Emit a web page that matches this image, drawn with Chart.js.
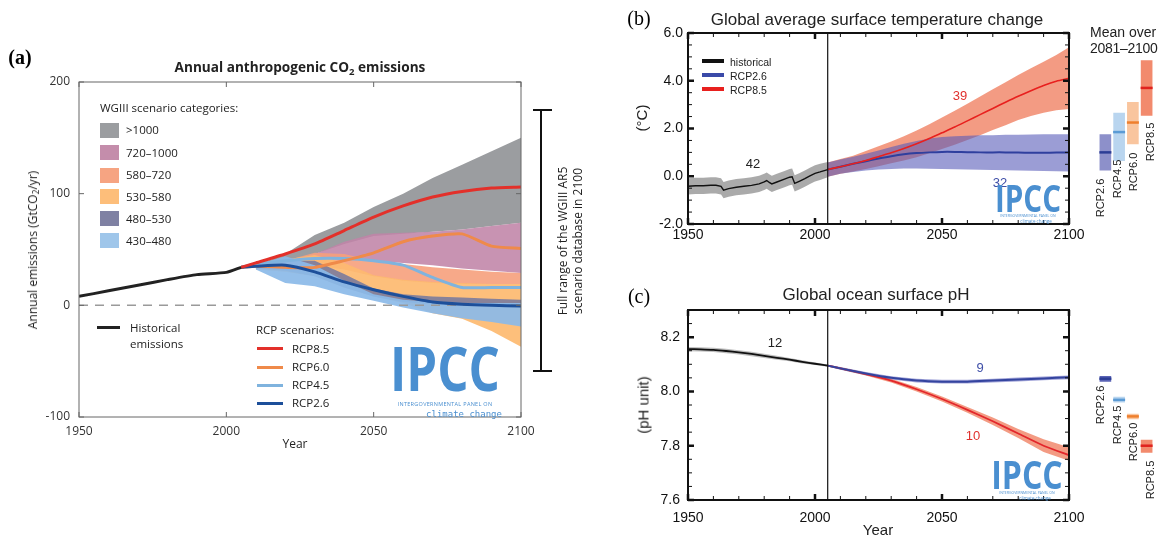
<!DOCTYPE html>
<html>
<head>
<meta charset="utf-8">
<script src="https://cdn.jsdelivr.net/npm/chart.js@4.4.1/dist/chart.umd.min.js"></script>
<style>
  html, body { margin: 0; padding: 0; background: #fff; }
  #page { position: relative; width: 1162px; height: 537px; overflow: hidden; font-family: "Liberation Sans", Arial, sans-serif; color: #222; }
  .box { position: absolute; }
  .t { position: absolute; white-space: nowrap; line-height: 1; }
  .cc { transform: translate(-50%, -50%); }
  .lc { transform: translate(0, -50%); }
  .rc { transform: translate(-50%, -50%) rotate(-90deg); }
  .os { font-family: "Open Sans", "Noto Sans", sans-serif; }
  sub { font-size: 70%; vertical-align: -0.25em; line-height: 0; }
  .sw { position: absolute; width: 19px; height: 15px; }
  .ln { position: absolute; height: 3px; }
  .logo { position: absolute; color: #4a8fd0; font-family: "Open Sans", sans-serif; white-space: nowrap; line-height: 1; }
  .big { font-weight: 700; }
</style>
</head>
<body>
<div id="page">

  <!-- panel (a) -->
  <div class="box" style="left:0;top:0;width:560px;height:460px;"><canvas id="emis"></canvas></div>
  <div class="t cc" style="left:20px;top:57px;font:bold 20px 'Liberation Serif',serif;color:#000;">(a)</div>
  <div class="t cc os" style="left:300px;top:67px;font-weight:700;font-size:13.6px;color:#222;">Annual anthropogenic CO<sub>2</sub> emissions</div>
  <div class="t rc os" style="left:33px;top:250px;font-size:12px;">Annual emissions (GtCO<sub>2</sub>/yr)</div>
  <div class="t cc os" style="left:295px;top:444px;font-size:12px;">Year</div>

  <div class="t lc os" style="left:100px;top:108px;font-size:11.5px;">WGIII scenario categories:</div>
  <div class="sw" style="left:100px;top:123px;background:#9b9da0;"></div>
  <div class="t lc os" style="left:126px;top:130px;font-size:11.5px;">&gt;1000</div>
  <div class="sw" style="left:100px;top:145px;background:#c48dab;"></div>
  <div class="t lc os" style="left:126px;top:153px;font-size:11.5px;">720–1000</div>
  <div class="sw" style="left:100px;top:168px;background:#f6a482;"></div>
  <div class="t lc os" style="left:126px;top:175px;font-size:11.5px;">580–720</div>
  <div class="sw" style="left:100px;top:189px;background:#fdbe7a;"></div>
  <div class="t lc os" style="left:126px;top:197px;font-size:11.5px;">530–580</div>
  <div class="sw" style="left:100px;top:211px;background:#7f81a3;"></div>
  <div class="t lc os" style="left:126px;top:219px;font-size:11.5px;">480–530</div>
  <div class="sw" style="left:100px;top:233px;background:#9fc6ea;"></div>
  <div class="t lc os" style="left:126px;top:241px;font-size:11.5px;">430–480</div>

  <div class="ln" style="left:97px;top:326px;width:23px;background:#222;"></div>
  <div class="t lc os" style="left:130px;top:328px;font-size:11.5px;">Historical</div>
  <div class="t lc os" style="left:130px;top:344px;font-size:11.5px;">emissions</div>

  <div class="t lc os" style="left:256px;top:330px;font-size:11.5px;">RCP scenarios:</div>
  <div class="ln" style="left:257px;top:347px;width:26px;background:#e3302a;"></div>
  <div class="t lc os" style="left:292px;top:349px;font-size:11.5px;">RCP8.5</div>
  <div class="ln" style="left:257px;top:366px;width:26px;background:#ef8a4a;"></div>
  <div class="t lc os" style="left:292px;top:367px;font-size:11.5px;">RCP6.0</div>
  <div class="ln" style="left:257px;top:384px;width:26px;background:#7fb3de;"></div>
  <div class="t lc os" style="left:292px;top:385px;font-size:11.5px;">RCP4.5</div>
  <div class="ln" style="left:257px;top:402px;width:26px;background:#1d4f9a;"></div>
  <div class="t lc os" style="left:292px;top:403px;font-size:11.5px;">RCP2.6</div>

  <div class="logo big" style="left:445px;top:368px;font-size:60px;transform:translate(-50%,-50%) scaleX(0.82);">IPCC</div>
  <div class="logo" style="left:445px;top:405px;font-size:5.5px;transform:translate(-50%,-50%);letter-spacing:0.3px;">INTERGOVERNMENTAL PANEL ON</div>
  <div class="logo" style="left:464px;top:414px;font-size:9px;font-family:'DejaVu Sans Mono',monospace;transform:translate(-50%,-50%);">climate change</div>

  <div style="position:absolute;left:540px;top:110px;width:2px;height:261px;background:#111;"></div>
  <div style="position:absolute;left:533px;top:109px;width:19px;height:2px;background:#111;"></div>
  <div style="position:absolute;left:533px;top:370px;width:19px;height:2px;background:#111;"></div>
  <div class="t rc os" style="left:563px;top:241px;font-size:12px;">Full range of the WGIII AR5</div>
  <div class="t rc os" style="left:578px;top:241px;font-size:12px;">scenario database in 2100</div>

  <!-- panel (b) -->
  <div class="box" style="left:600px;top:0;width:500px;height:255px;"><canvas id="temp"></canvas></div>
  <div class="box" style="left:1090px;top:0;width:72px;height:255px;"><canvas id="tempMean"></canvas></div>
  <div class="t cc" style="left:639px;top:18px;font:20px 'Liberation Serif',serif;color:#000;">(b)</div>
  <div class="t cc" style="left:877px;top:19px;font-size:17px;">Global average surface temperature change</div>
  <div class="t rc" style="left:641px;top:118px;font-size:15px;">(°C)</div>
  <div class="ln" style="left:702px;top:59px;width:22px;height:4px;background:#111;"></div>
  <div class="t lc" style="left:730px;top:62px;font-size:10.5px;">historical</div>
  <div class="ln" style="left:702px;top:73px;width:22px;height:4px;background:#3a4aa8;"></div>
  <div class="t lc" style="left:730px;top:76px;font-size:10.5px;">RCP2.6</div>
  <div class="ln" style="left:702px;top:87px;width:22px;height:4px;background:#e8201e;"></div>
  <div class="t lc" style="left:730px;top:90px;font-size:10.5px;">RCP8.5</div>
  <div class="t cc" style="left:753px;top:163px;font-size:13px;">42</div>
  <div class="t cc" style="left:960px;top:95px;font-size:13px;color:#e0312e;">39</div>
  <div class="t cc" style="left:1000px;top:182px;font-size:13px;color:#3f4fa8;">32</div>
  <div class="logo big" style="left:1028px;top:197px;font-size:37px;transform:translate(-50%,-50%) scaleX(0.8);">IPCC</div>
  <div class="logo" style="left:1028px;top:216px;font-size:3.5px;transform:translate(-50%,-50%);">INTERGOVERNMENTAL PANEL ON</div>
  <div class="logo" style="left:1036px;top:221px;font-size:4.5px;transform:translate(-50%,-50%);">climate change</div>
  <div class="t lc" style="left:1090px;top:32px;font-size:14px;">Mean over</div>
  <div class="t lc" style="left:1090px;top:48px;font-size:14px;letter-spacing:-0.3px;">2081–2100</div>
  <div class="t rc" style="left:1100px;top:198px;font-size:11px;">RCP2.6</div>
  <div class="t rc" style="left:1117px;top:179px;font-size:11px;">RCP4.5</div>
  <div class="t rc" style="left:1133px;top:172px;font-size:11px;">RCP6.0</div>
  <div class="t rc" style="left:1150px;top:142px;font-size:11px;">RCP8.5</div>

  <!-- panel (c) -->
  <div class="box" style="left:600px;top:280px;width:500px;height:257px;"><canvas id="ph"></canvas></div>
  <div class="box" style="left:1090px;top:280px;width:72px;height:257px;"><canvas id="phMean"></canvas></div>
  <div class="t cc" style="left:639px;top:296px;font:20px 'Liberation Serif',serif;color:#000;">(c)</div>
  <div class="t cc" style="left:876px;top:294px;font-size:17px;">Global ocean surface pH</div>
  <div class="t rc" style="left:643px;top:405px;font-size:15px;">(pH unit)</div>
  <div class="t cc" style="left:878px;top:529px;font-size:15px;">Year</div>
  <div class="t cc" style="left:775px;top:342px;font-size:13px;">12</div>
  <div class="t cc" style="left:980px;top:367px;font-size:13px;color:#3f4fa8;">9</div>
  <div class="t cc" style="left:973px;top:435px;font-size:13px;color:#e0312e;">10</div>
  <div class="logo big" style="left:1027px;top:474px;font-size:40px;transform:translate(-50%,-50%) scaleX(0.8);">IPCC</div>
  <div class="logo" style="left:1027px;top:493px;font-size:3.5px;transform:translate(-50%,-50%);">INTERGOVERNMENTAL PANEL ON</div>
  <div class="logo" style="left:1035px;top:498px;font-size:4.5px;transform:translate(-50%,-50%);">climate change</div>
  <div class="t rc" style="left:1100px;top:405px;font-size:11px;">RCP2.6</div>
  <div class="t rc" style="left:1117px;top:425px;font-size:11px;">RCP4.5</div>
  <div class="t rc" style="left:1133px;top:442px;font-size:11px;">RCP6.0</div>
  <div class="t rc" style="left:1150px;top:480px;font-size:11px;">RCP8.5</div>
</div>

<script>
// ---------- (a) annual anthropogenic CO2 emissions, GtCO2/yr ----------
const emisTicksX = [1950, 2000, 2050, 2100];
const emisTicksY = [-100, 0, 100, 200];
const histYears = [1950, 1960, 1970, 1980, 1990, 2000, 2005];
const histEmis = [8, 13, 18, 23, 27.5, 29.5, 34];
const rcpYears = [2005, 2010, 2020, 2030, 2040, 2050, 2060, 2070, 2080, 2090, 2100];
const rcp85Emis = [34, 38, 46, 55, 67, 79, 89, 97, 102, 105, 106];
const rcp60Emis = [34, 35, 34, 34, 40, 47, 57, 62, 64, 53, 51];
const rcp45Emis = [34, 37, 40, 42, 42, 40, 36, 25, 16, 16, 16];
const rcp26Emis = [34, 35, 36, 30, 21, 14, 8, 3, 1, 0, -0.5];
const catYears = [2010, 2020, 2030, 2040, 2050, 2060, 2070, 2080, 2090, 2100];
const cat1000Lo = [34, 38, 46, 55, 62, 64, 66, 68, 71, 74];
const cat1000Hi = [36, 46, 63, 74, 88, 100, 114, 126, 138, 150];
const cat720Lo = [34, 36, 42, 42, 40, 38, 36, 33, 31, 29];
const cat720Hi = [35, 39, 46, 57, 64, 65, 66, 68, 71, 74];
const cat580Lo = [33, 34, 36, 32, 26, 22, 20, 19, 19, 19];
const cat580Hi = [35, 40, 47, 46, 40, 37, 34, 32, 30, 29];
const cat530Lo = [32, 30, 26, 16, 8, 2, -7, -12, -23, -37];
const cat530Hi = [36, 41, 45, 38, 27, 23, 21, 20, 19, 19];
const cat480Lo = [33, 31, 26, 16, 8, 3, 1, 0, -1, -2];
const cat480Hi = [35, 40, 40, 28, 15, 10, 8, 7, 6, 5];
const cat430Lo = [32, 20, 17, 10, 4, -2, -7, -11.5, -15, -19];
const cat430Hi = [36, 44, 36, 22, 10, 5, 3, 2, 2, 2];

// ---------- (b) global mean surface temperature change, °C ----------
const tempTicksX = [1950, 2000, 2050, 2100];
const tempTicksY = [-2, 0, 2, 4, 6];
const histTempYears = [1950, 1953, 1956, 1959, 1961, 1963, 1964, 1966, 1969, 1972, 1975, 1978, 1980, 1981, 1982, 1983, 1985, 1988, 1990, 1991, 1992, 1994, 1996, 1998, 2000, 2002, 2005];
const histTemp = [-0.42, -0.40, -0.40, -0.38, -0.38, -0.42, -0.58, -0.52, -0.46, -0.42, -0.38, -0.32, -0.24, -0.18, -0.26, -0.32, -0.24, -0.12, -0.04, -0.02, -0.30, -0.20, -0.10, 0.02, 0.12, 0.18, 0.28];
const histTempHi = [-0.08, -0.06, -0.06, -0.04, -0.04, -0.08, -0.24, -0.18, -0.12, -0.08, -0.04, 0.02, 0.10, 0.16, 0.08, 0.02, 0.10, 0.22, 0.30, 0.32, 0.04, 0.14, 0.24, 0.36, 0.46, 0.52, 0.60];
const histTempLo = [-0.76, -0.74, -0.74, -0.72, -0.72, -0.76, -0.92, -0.86, -0.80, -0.76, -0.72, -0.66, -0.58, -0.52, -0.60, -0.66, -0.58, -0.46, -0.38, -0.36, -0.64, -0.54, -0.44, -0.32, -0.22, -0.16, -0.04];
const projYears = [2005, 2010, 2015, 2020, 2025, 2030, 2035, 2040, 2045, 2050, 2055, 2060, 2065, 2070, 2075, 2080, 2085, 2090, 2095, 2100];
const rcp85Temp = [0.28, 0.40, 0.52, 0.66, 0.82, 0.98, 1.16, 1.36, 1.58, 1.82, 2.06, 2.32, 2.58, 2.84, 3.10, 3.35, 3.58, 3.80, 3.98, 4.10];
const rcp85TempHi = [0.58, 0.72, 0.86, 1.06, 1.26, 1.46, 1.68, 1.92, 2.18, 2.46, 2.74, 3.04, 3.34, 3.64, 3.94, 4.24, 4.52, 4.80, 5.08, 5.40];
const rcp85TempLo = [-0.02, 0.10, 0.20, 0.30, 0.42, 0.54, 0.66, 0.80, 0.96, 1.14, 1.32, 1.52, 1.72, 1.94, 2.14, 2.36, 2.52, 2.66, 2.76, 2.82];
const rcp26Temp = [0.28, 0.40, 0.52, 0.63, 0.74, 0.84, 0.92, 0.97, 1.00, 1.02, 1.02, 1.01, 1.00, 1.00, 1.00, 0.99, 0.98, 0.98, 0.99, 1.00];
const rcp26TempHi = [0.58, 0.70, 0.82, 0.94, 1.08, 1.22, 1.36, 1.48, 1.58, 1.64, 1.68, 1.70, 1.72, 1.72, 1.74, 1.74, 1.75, 1.76, 1.76, 1.76];
const rcp26TempLo = [-0.02, 0.10, 0.18, 0.24, 0.28, 0.30, 0.32, 0.32, 0.31, 0.30, 0.29, 0.28, 0.27, 0.26, 0.25, 0.24, 0.23, 0.22, 0.21, 0.20];
const scenarios = ['RCP2.6', 'RCP4.5', 'RCP6.0', 'RCP8.5'];
const tempMean = [1.0, 1.85, 2.25, 3.7];
const tempMeanLo = [0.25, 0.65, 1.35, 2.55];
const tempMeanHi = [1.75, 2.65, 3.1, 4.85];

// ---------- (c) global ocean surface pH ----------
const phTicksX = [1950, 2000, 2050, 2100];
const phTicksY = [7.6, 7.8, 8.0, 8.2];
const histPhYears = [1950, 1955, 1960, 1965, 1970, 1975, 1980, 1985, 1990, 1995, 2000, 2005];
const histPh = [8.156, 8.155, 8.153, 8.149, 8.144, 8.138, 8.131, 8.124, 8.117, 8.109, 8.102, 8.095];
const histPhHi = [8.164, 8.163, 8.161, 8.157, 8.152, 8.146, 8.139, 8.131, 8.123, 8.115, 8.107, 8.099];
const histPhLo = [8.148, 8.147, 8.145, 8.141, 8.136, 8.130, 8.123, 8.117, 8.111, 8.103, 8.097, 8.091];
const phYears = [2005, 2010, 2020, 2030, 2040, 2050, 2060, 2070, 2080, 2090, 2100];
const rcp26Ph = [8.095, 8.085, 8.066, 8.050, 8.040, 8.036, 8.036, 8.040, 8.044, 8.048, 8.052];
const rcp26PhHi = [8.098, 8.090, 8.072, 8.056, 8.047, 8.043, 8.043, 8.047, 8.051, 8.055, 8.059];
const rcp26PhLo = [8.092, 8.080, 8.060, 8.044, 8.033, 8.029, 8.029, 8.033, 8.037, 8.041, 8.045];
const rcp85Ph = [8.095, 8.085, 8.064, 8.040, 8.008, 7.972, 7.932, 7.890, 7.845, 7.800, 7.765];
const rcp85PhHi = [8.098, 8.089, 8.069, 8.047, 8.016, 7.981, 7.943, 7.904, 7.862, 7.824, 7.794];
const rcp85PhLo = [8.092, 8.081, 8.059, 8.033, 8.000, 7.963, 7.921, 7.876, 7.828, 7.777, 7.745];
const phMean = [8.047, 7.969, 7.908, 7.800];
const phMeanLo = [8.037, 7.960, 7.899, 7.775];
const phMeanHi = [8.056, 7.979, 7.917, 7.821];

// ---------- helpers ----------
const pts = (xs, ys) => xs.map((x, i) => ({ x, y: ys[i] }));
const bandSets = (xs, lo, hi, color) => [
  { data: pts(xs, lo), borderWidth: 0, borderColor: 'transparent', pointRadius: 0, fill: false },
  { data: pts(xs, hi), borderWidth: 0, borderColor: 'transparent', pointRadius: 0, fill: '-1', backgroundColor: color }
];
const lineSet = (xs, ys, color, width, extra) => Object.assign(
  { data: pts(xs, ys), borderColor: color, borderWidth: width, pointRadius: 0, fill: false, tension: 0.2 }, extra || {});
// list is given back-to-front; the first entries are painted first
const stack = list => list.map((d, i) => Object.assign(d, { order: list.length - i }));

// frame, inner tick marks and the year marker line
const framePlugin = {
  id: 'frame',
  afterDatasetsDraw(chart, args, o) {
    const { ctx, chartArea: a } = chart;
    const xs = chart.scales.x, ys = chart.scales.y;
    ctx.save();
    ctx.strokeStyle = o.color;
    const marks = (scale, step, len, width, horiz) => {
      if (!step) return;
      ctx.lineWidth = width;
      const n0 = Math.ceil(scale.min / step - 1e-6), n1 = Math.floor(scale.max / step + 1e-6);
      for (let n = n0; n <= n1; n++) {
        const p = scale.getPixelForValue(n * step);
        ctx.beginPath();
        if (horiz) {
          ctx.moveTo(p, a.bottom); ctx.lineTo(p, a.bottom - len);
          ctx.moveTo(p, a.top); ctx.lineTo(p, a.top + len);
        } else {
          ctx.moveTo(a.left, p); ctx.lineTo(a.left + len, p);
          ctx.moveTo(a.right, p); ctx.lineTo(a.right - len, p);
        }
        ctx.stroke();
      }
    };
    marks(xs, o.xMinor, o.minorLen, o.minorWidth, true);
    marks(ys, o.yMinor, o.minorLen, o.minorWidth, false);
    marks(xs, o.xMajor, o.majorLen, o.majorWidth, true);
    marks(ys, o.yMajor, o.majorLen, o.majorWidth, false);
    if (o.marker != null) {
      const p = xs.getPixelForValue(o.marker);
      ctx.lineWidth = o.markerWidth;
      ctx.beginPath(); ctx.moveTo(p, a.top); ctx.lineTo(p, a.bottom); ctx.stroke();
    }
    ctx.lineWidth = o.borderWidth;
    ctx.strokeRect(a.left, a.top, a.width, a.height);
    ctx.restore();
  }
};

function axis(ticks, opts) {
  return {
    type: 'linear', min: ticks[0], max: ticks[ticks.length - 1],
    afterBuildTicks: s => { s.ticks = ticks.map(v => ({ value: v })); },
    afterFit: s => { if (opts.width != null) s.width = opts.width; if (opts.height != null) s.height = opts.height; },
    ticks: { autoSkip: false, maxRotation: 0, padding: opts.pad, color: opts.color, font: opts.font, callback: opts.fmt },
    grid: { display: false, drawTicks: false },
    border: { display: false }
  };
}

const baseOpts = (padding, scales, frame) => ({
  responsive: true, maintainAspectRatio: false, animation: false, events: [],
  layout: { padding },
  plugins: { legend: { display: false }, tooltip: { enabled: false }, frame },
  scales
});

// ---------- (a) ----------
const fontA = { family: "'Open Sans', 'Noto Sans', sans-serif", size: 12 };
new Chart(document.getElementById('emis'), {
  type: 'line',
  data: {
    datasets: stack([
      ...bandSets(catYears, cat1000Lo, cat1000Hi, 'rgb(155,157,160)'),
      ...bandSets(catYears, cat720Lo, cat720Hi, 'rgba(192,132,167,0.88)'),
      ...bandSets(catYears, cat580Lo, cat580Hi, 'rgba(246,160,124,0.9)'),
      ...bandSets(catYears, cat530Lo, cat530Hi, 'rgba(253,186,112,0.92)'),
      ...bandSets(catYears, cat480Lo, cat480Hi, 'rgba(120,122,158,0.88)'),
      ...bandSets(catYears, cat430Lo, cat430Hi, 'rgba(140,186,232,0.93)'),
      lineSet([1950, 2100], [0, 0], '#9a9a9a', 1.5, { borderDash: [9, 7], tension: 0 }),
      lineSet(rcpYears, rcp45Emis, '#7fb3de', 3),
      lineSet(rcpYears, rcp60Emis, '#ef8a4a', 3),
      lineSet(rcpYears, rcp26Emis, '#1d4f9a', 3),
      lineSet(rcpYears, rcp85Emis, '#e3302a', 3),
      lineSet(histYears, histEmis, '#222222', 3)
    ])
  },
  options: baseOpts({ left: 0, right: 39, top: 82, bottom: 0 }, {
    x: axis(emisTicksX, { height: 43, pad: 7, color: '#333', font: fontA, fmt: v => String(v) }),
    y: axis(emisTicksY, { width: 79, pad: 9, color: '#333', font: fontA, fmt: v => String(v) })
  }, { color: '#666', borderWidth: 1, xMajor: 50, yMajor: 100, majorLen: 5, majorWidth: 1 }),
  plugins: [framePlugin]
});

// ---------- (b) ----------
const fontB = { family: "'Liberation Sans', Arial, sans-serif", size: 14 };
new Chart(document.getElementById('temp'), {
  type: 'line',
  data: {
    datasets: stack([
      ...bandSets(histTempYears, histTempLo, histTempHi, 'rgba(125,125,125,0.65)'),
      ...bandSets(projYears, rcp85TempLo, rcp85TempHi, 'rgba(238,112,78,0.7)'),
      ...bandSets(projYears, rcp26TempLo, rcp26TempHi, 'rgba(88,92,185,0.6)'),
      lineSet(projYears, rcp26Temp, '#2f3f9e', 2),
      lineSet(projYears, rcp85Temp, '#e8201e', 1.6),
      lineSet(histTempYears, histTemp, '#111111', 1.4, { tension: 0 })
    ])
  },
  options: baseOpts({ left: 0, right: 31, top: 33, bottom: 0 }, {
    x: axis(tempTicksX, { height: 31, pad: 3, color: '#111', font: fontB, fmt: v => String(v) }),
    y: axis(tempTicksY, { width: 88, pad: 5, color: '#111', font: fontB, fmt: v => v.toFixed(1) })
  }, { color: '#111', borderWidth: 2, xMinor: 10, yMinor: 0.5, minorLen: 4, minorWidth: 1,
       xMajor: 50, yMajor: 2, majorLen: 6, majorWidth: 2.5, marker: 2005, markerWidth: 1.2 }),
  plugins: [framePlugin]
});

function meanChart(id, lo, hi, mean, min, max, padding, fills, strokes) {
  new Chart(document.getElementById(id), {
    type: 'bar',
    data: {
      labels: scenarios,
      datasets: [
        { type: 'line', data: mean, showLine: false, pointStyle: 'line', pointRadius: 6,
          pointBorderWidth: 2.5, pointBorderColor: strokes, pointBackgroundColor: strokes, order: 0 },
        { data: lo.map((v, i) => [v, hi[i]]), backgroundColor: fills, borderWidth: 0,
          barThickness: 11, order: 1 }
      ]
    },
    options: {
      responsive: true, maintainAspectRatio: false, animation: false, events: [],
      layout: { padding },
      plugins: { legend: { display: false }, tooltip: { enabled: false } },
      scales: {
        x: { display: false },
        y: { display: false, min, max }
      }
    }
  });
}
meanChart('tempMean', tempMeanLo, tempMeanHi, tempMean, -2, 6,
  { left: 3.5, right: 4.5, top: 33, bottom: 31 },
  ['#8d90ca', '#b9d5ef', '#f9c59e', '#f28a6d'],
  ['#2c3d95', '#5b9bd5', '#ef7f2d', '#e0231e']);

// ---------- (c) ----------
new Chart(document.getElementById('ph'), {
  type: 'line',
  data: {
    datasets: stack([
      ...bandSets(histPhYears, histPhLo, histPhHi, 'rgba(125,125,125,0.5)'),
      ...bandSets(phYears, rcp85PhLo, rcp85PhHi, 'rgba(238,112,78,0.7)'),
      ...bandSets(phYears, rcp26PhLo, rcp26PhHi, 'rgba(88,92,185,0.55)'),
      lineSet(phYears, rcp85Ph, '#e3262b', 1.8),
      lineSet(phYears, rcp26Ph, '#34449f', 2),
      lineSet(histPhYears, histPh, '#111111', 1.8)
    ])
  },
  options: baseOpts({ left: 0, right: 31, top: 30, bottom: 0 }, {
    x: axis(phTicksX, { height: 37, pad: 10, color: '#111', font: fontB, fmt: v => String(v) }),
    y: Object.assign(axis(phTicksY, { width: 88, pad: 8, color: '#111', font: fontB, fmt: v => v.toFixed(1) }), { min: 7.6, max: 8.3 })
  }, { color: '#111', borderWidth: 2, xMinor: 10, yMinor: 0.05, minorLen: 4, minorWidth: 1,
       xMajor: 50, yMajor: 0.2, majorLen: 6, majorWidth: 2.5, marker: 2005, markerWidth: 1.2 }),
  plugins: [framePlugin]
});

meanChart('phMean', phMeanLo, phMeanHi, phMean, 7.6, 8.3,
  { left: 3.5, right: 4.5, top: 30, bottom: 37 },
  ['#5a63b5', '#b9d5ef', '#f9c59e', '#f28a6d'],
  ['#2c3d95', '#5b9bd5', '#ef7f2d', '#e0231e']);
</script>
</body>
</html>
